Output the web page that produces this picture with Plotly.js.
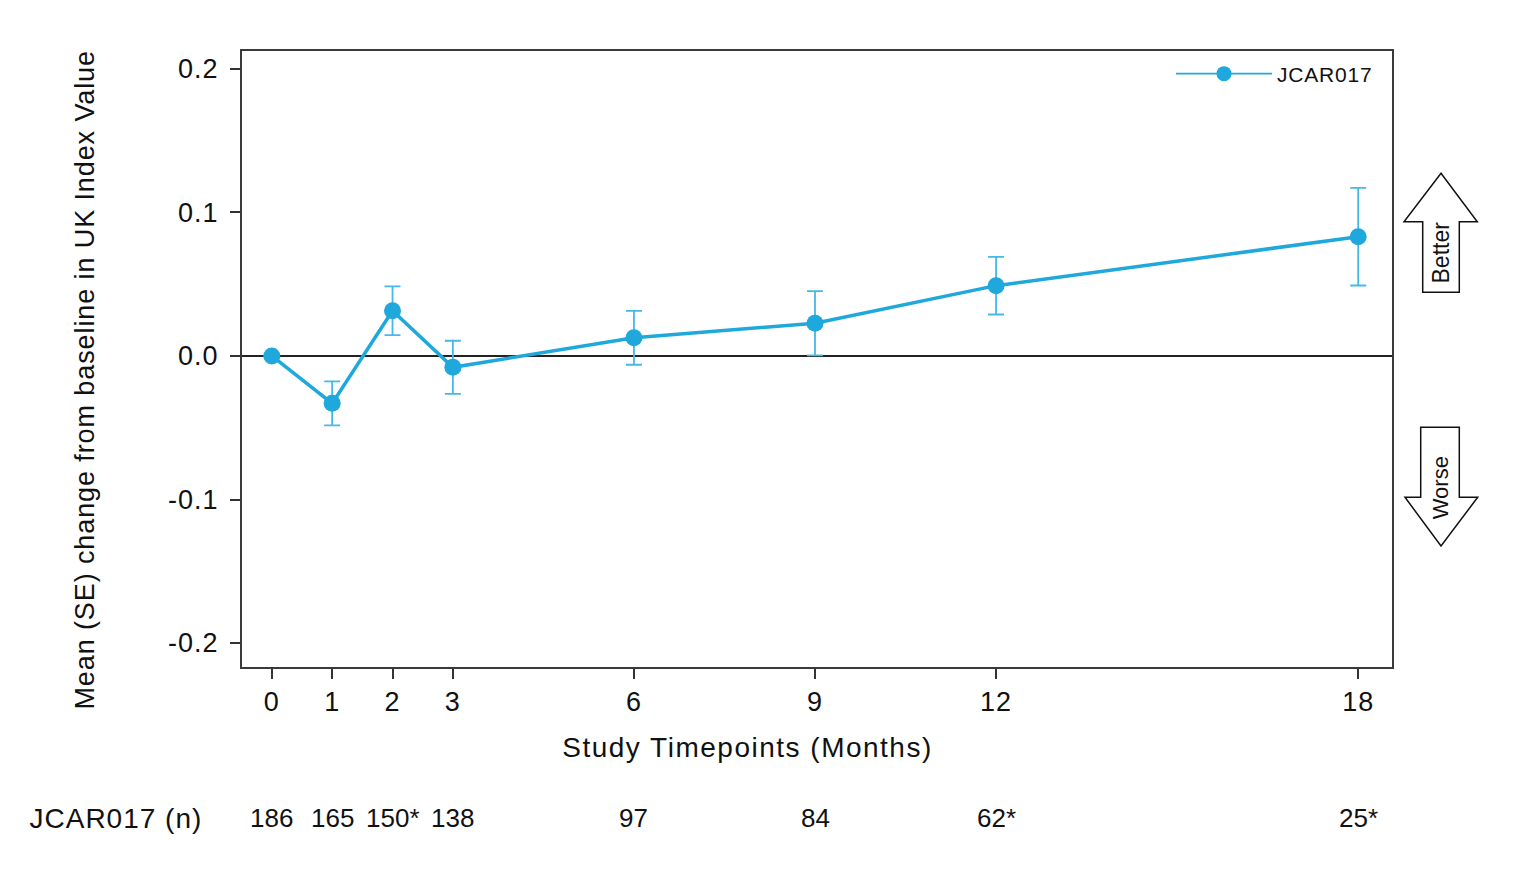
<!DOCTYPE html>
<html>
<head>
<meta charset="utf-8">
<script src="https://cdn.plot.ly/plotly-3.0.1.min.js"></script>
<style>
  html, body { margin: 0; padding: 0; background: #fff; }
  #chart { width: 1530px; height: 876px; }
  .xtick text, .ytick text { letter-spacing: 1px; }
  .legendtext { letter-spacing: 0.8px; }
  .annotation[data-index="0"] text { letter-spacing: 1.5px; }
  .annotation[data-index="1"] text { letter-spacing: 0.9px; }
  .annotation[data-index="2"] text { letter-spacing: 1px; }
</style>
</head>
<body>
<div id="chart"></div>
<script>
// ---- data ----
const months = [0, 1, 2, 3, 6, 9, 12, 18];
const meanChange = [0.0, -0.033, 0.0315, -0.0079, 0.0127, 0.0228, 0.049, 0.0831];
const seValues = [0, 0.0153, 0.0170, 0.0185, 0.0188, 0.0224, 0.0201, 0.0340];
const nLabels = ['186', '165', '150*', '138', '97', '84', '62*', '25*'];
const seriesName = 'JCAR017';
const yTickVals = [0.2, 0.1, 0.0, -0.1, -0.2];
const yTickText = ['0.2', '0.1', '0.0', '-0.1', '-0.2'];
const xTickText = ['0', '1', '2', '3', '6', '9', '12', '18'];

// ---- layout helpers (pixel -> paper) ----
const PL = 242, PR = 1392, PT = 51, PB = 667;
const px = v => (v - PL) / (PR - PL);
const py = v => (PB - v) / (PB - PT);
function pathOf(pts) {
  return 'M ' + pts.map(p => px(p[0]).toFixed(5) + ',' + py(p[1]).toFixed(5)).join(' L ') + ' Z';
}

const FONT = 'Liberation Sans, Arial, sans-serif';
const lineColor = '#1ea8dc';
const errColor = '#45b9e6';

const traces = [
  {
    x: months, y: meanChange, type: 'scatter', mode: 'markers',
    marker: { size: 2, color: 'rgba(0,0,0,0)' },
    error_y: { type: 'data', array: seValues, visible: true, color: errColor, thickness: 1.8, width: 8 },
    showlegend: false, hoverinfo: 'skip'
  },
  {
    x: months, y: meanChange, type: 'scatter', mode: 'lines+markers', name: seriesName,
    line: { color: lineColor, width: 3.5 },
    marker: { color: lineColor, size: 17 },
    showlegend: false
  },
  {
    // legend entry only (thin line, as in the reference key)
    x: [null], y: [null], type: 'scatter', mode: 'lines+markers', name: seriesName,
    line: { color: lineColor, width: 1.6 },
    marker: { color: lineColor, size: 15 },
    showlegend: true
  }
];

const betterArrow = [[1441, 173.3], [1477.3, 221.7], [1459.3, 221.7], [1459.3, 292.3], [1422.7, 292.3], [1422.7, 221.7], [1404, 221.7]];
const worseArrow = [[1420.7, 427.3], [1459.3, 427.3], [1459.3, 497.3], [1477.7, 497.3], [1441, 546], [1405, 497.3], [1420.7, 497.3]];

const annotations = [
  { text: 'Study Timepoints (Months)', xref: 'paper', yref: 'paper', x: px(747), y: py(747), xanchor: 'center', yanchor: 'middle', showarrow: false, font: { family: FONT, size: 28, color: '#111' } },
  { text: 'Mean (SE) change from baseline in UK Index Value', xref: 'paper', yref: 'paper', x: px(85), y: py(380), xanchor: 'center', yanchor: 'middle', textangle: -90, showarrow: false, font: { family: FONT, size: 27, color: '#111' } },
  { text: seriesName + ' (n)', xref: 'paper', yref: 'paper', x: px(116), y: py(818), xanchor: 'center', yanchor: 'middle', showarrow: false, font: { family: FONT, size: 28, color: '#111' } },
  { text: 'Better', xref: 'paper', yref: 'paper', x: px(1440), y: py(252.5), xanchor: 'center', yanchor: 'middle', textangle: -90, showarrow: false, font: { family: FONT, size: 23, color: '#111' } },
  { text: 'Worse', xref: 'paper', yref: 'paper', x: px(1440), y: py(487.3), xanchor: 'center', yanchor: 'middle', textangle: -90, showarrow: false, font: { family: FONT, size: 22, color: '#111' } }
];
months.forEach((m, i) => {
  annotations.push({ text: nLabels[i], xref: 'x', yref: 'paper', x: m, y: py(818), xanchor: 'center', yanchor: 'middle', showarrow: false, font: { family: FONT, size: 26, color: '#111' } });
});

const layout = {
  width: 1530, height: 876, autosize: false,
  margin: { l: PL, r: 1530 - PR, t: PT, b: 876 - PB, pad: 0 },
  paper_bgcolor: '#fff', plot_bgcolor: '#fff',
  font: { family: FONT, color: '#111' },
  xaxis: {
    range: [-0.494, 18.56], tickmode: 'array', tickvals: months, ticktext: xTickText,
    ticks: 'outside', ticklen: 10, tickwidth: 2, tickcolor: '#333',
    showline: true, mirror: true, linecolor: '#3a3a3a', linewidth: 2,
    showgrid: false, zeroline: false, tickfont: { family: FONT, size: 27, color: '#111' },
    ticklabelstandoff: 0
  },
  yaxis: {
    range: [-0.2167, 0.2125], tickmode: 'array', tickvals: yTickVals, ticktext: yTickText,
    ticks: 'outside', ticklen: 10, tickwidth: 2, tickcolor: '#333',
    showline: true, mirror: true, linecolor: '#3a3a3a', linewidth: 2,
    showgrid: false, zeroline: true, zerolinecolor: '#222', zerolinewidth: 2,
    tickfont: { family: FONT, size: 27, color: '#111' }, ticklabelstandoff: 6
  },
  legend: {
    x: px(1171), y: py(74), xanchor: 'left', yanchor: 'middle',
    bgcolor: 'rgba(0,0,0,0)', borderwidth: 0, itemwidth: 96,
    font: { family: FONT, size: 21, color: '#111' }
  },
  shapes: [
    { type: 'path', xref: 'paper', yref: 'paper', path: pathOf(betterArrow), line: { color: '#111', width: 1.5 }, fillcolor: '#fff' },
    { type: 'path', xref: 'paper', yref: 'paper', path: pathOf(worseArrow), line: { color: '#111', width: 1.5 }, fillcolor: '#fff' }
  ],
  annotations: annotations,
  showlegend: true
};

Plotly.newPlot('chart', traces, layout, { staticPlot: true, displayModeBar: false });
</script>
</body>
</html>
